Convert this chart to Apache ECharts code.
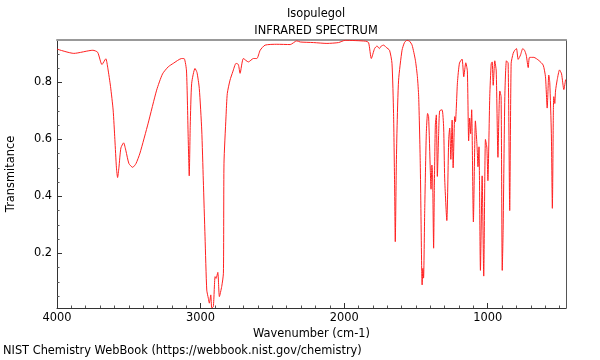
<!DOCTYPE html>
<html>
<head>
<meta charset="utf-8">
<script src="https://cdn.jsdelivr.net/npm/echarts@6/dist/echarts.min.js"></script>
<style>html,body{margin:0;padding:0;background:#fff}#c{width:600px;height:360px}</style>
</head>
<body>
<div id="c"></div>
<script>
const wavenumber = [4000,3883,3750,3717,3687,3660,3646,3627,3609,3597,3586,3578,3569,3555,3536,3520,3499,3473,3450,3422,3365,3306,3265,3225,3190,3132,3113,3098,3086,3079,3072,3062,3039,3025,3009,2992,2981,2969,2957,2946,2939,2929,2922,2911,2899,2892,2880,2869,2853,2841,2837,2823,2814,2795,2776,2753,2737,2725,2702,2667,2632,2608,2585,2551,2469,2376,2330,2306,2214,2120,2039,1993,1853,1830,1811,1788,1771,1755,1741,1725,1707,1684,1667,1656,1649,1644,1637,1632,1621,1597,1580,1562,1545,1527,1504,1490,1481,1470,1460,1457,1452,1447,1439,1428,1419,1412,1400,1395,1389,1384,1377,1372,1365,1358,1351,1342,1335,1318,1307,1300,1285,1272,1265,1257,1248,1241,1230,1225,1211,1197,1179,1167,1153,1142,1133,1126,1119,1112,1100,1086,1074,1068,1061,1051,1039,1028,1016,1006,999,986,976,969,962,951,941,929,922,916,907,899,893,881,870,858,847,837,823,812,800,788,772,756,744,732,718,709,679,644,614,598,586,575,568,557,550,543,540,533,528,516,500,486,470,458];
const transmittance = [0.917,0.902,0.913,0.906,0.863,0.883,0.85,0.785,0.703,0.60,0.50,0.466,0.50,0.57,0.588,0.56,0.515,0.502,0.515,0.552,0.657,0.773,0.830,0.855,0.867,0.884,0.883,0.84,0.60,0.472,0.65,0.797,0.849,0.835,0.779,0.633,0.457,0.258,0.071,0.042,0.025,0.054,0.008,0.013,0.118,0.112,0.133,0.048,0.083,0.130,0.516,0.679,0.761,0.808,0.837,0.867,0.863,0.832,0.884,0.872,0.884,0.884,0.913,0.931,0.934,0.933,0.946,0.942,0.940,0.937,0.940,0.948,0.945,0.940,0.884,0.919,0.928,0.919,0.928,0.931,0.923,0.913,0.867,0.691,0.45,0.241,0.50,0.633,0.808,0.913,0.94,0.948,0.945,0.931,0.878,0.82,0.750,0.516,0.141,0.089,0.147,0.113,0.35,0.62,0.691,0.681,0.49,0.425,0.51,0.476,0.218,0.43,0.65,0.686,0.47,0.62,0.70,0.704,0.64,0.464,0.315,0.60,0.64,0.53,0.668,0.50,0.68,0.662,0.80,0.868,0.882,0.82,0.869,0.84,0.595,0.675,0.62,0.704,0.31,0.665,0.57,0.504,0.574,0.14,0.472,0.12,0.60,0.57,0.455,0.75,0.865,0.872,0.79,0.876,0.84,0.537,0.69,0.77,0.75,0.14,0.28,0.75,0.876,0.868,0.35,0.867,0.902,0.913,0.919,0.881,0.896,0.919,0.913,0.896,0.852,0.888,0.888,0.877,0.861,0.82,0.71,0.826,0.80,0.62,0.358,0.70,0.75,0.726,0.77,0.81,0.844,0.83,0.775,0.81];

const xMajorTicks = [1000, 2000, 3000, 4000];
const xMinorTicks = [500,600,700,800,900,1100,1200,1300,1400,1500,1600,1700,1800,1900,2100,2200,2300,2400,2500,2600,2700,2800,2900,3100,3200,3300,3400,3500,3600,3700,3800,3900];
const yMajorTicks = [0.2, 0.4, 0.6, 0.8];
const yMinorTicks = [0.05,0.1,0.15,0.25,0.3,0.35,0.45,0.5,0.55,0.65,0.7,0.75,0.85,0.9];

const X_MIN = 455, X_MAX = 4000, Y_MIN = 0.008, Y_MAX = 0.949;
const FONT = 'DejaVu Sans';
const FS = 11.4;

const data = wavenumber.map((w, i) => [w, transmittance[i]]);

const chart = echarts.init(document.getElementById('c'), null, {renderer: 'canvas'});
const baseX = {type: 'value', min: X_MIN, max: X_MAX, inverse: true, splitLine: {show: false}, gridIndex: 0};
const baseY = {type: 'value', min: Y_MIN, max: Y_MAX, splitLine: {show: false}, gridIndex: 0};
chart.setOption({
  animation: false,
  backgroundColor: '#fff',
  title: [
    {text: 'Isopulegol', left: 311, top: 4, textAlign: 'center', textStyle: {fontFamily: FONT, fontSize: FS, fontWeight: 'normal', color: '#000'}},
    {text: 'INFRARED SPECTRUM', left: 311, top: 21, textAlign: 'center', textStyle: {fontFamily: FONT, fontSize: FS, fontWeight: 'normal', color: '#000'}}
  ],
  grid: {left: 57, right: 34, top: 40, bottom: 52, containLabel: false, outerBoundsMode: 'none'},
  xAxis: [
    Object.assign({}, baseX, {
      position: 'bottom',
      name: 'Wavenumber (cm-1)', nameLocation: 'middle', nameGap: 20,
      nameTextStyle: {fontFamily: FONT, fontSize: FS, color: '#000'},
      axisLine: {show: true, lineStyle: {color: '#333', width: 1}},
      axisTick: {show: true, inside: true, length: 5, customValues: xMajorTicks, lineStyle: {color: '#333'}},
      axisLabel: {show: true, customValues: xMajorTicks, margin: 5, fontFamily: FONT, fontSize: FS, color: '#000', formatter: v => String(Math.round(v))}
    }),
    Object.assign({}, baseX, {
      position: 'bottom',
      axisLine: {show: false},
      axisTick: {show: true, inside: true, length: 2.5, customValues: xMinorTicks, lineStyle: {color: '#555'}},
      axisLabel: {show: false}
    }),
    Object.assign({}, baseX, {
      position: 'top',
      axisLine: {show: true, lineStyle: {color: '#999', width: 2}},
      axisTick: {show: false}, axisLabel: {show: false}
    })
  ],
  yAxis: [
    Object.assign({}, baseY, {
      position: 'left',
      name: 'Transmitance', nameLocation: 'middle', nameGap: 40, nameRotate: 90,
      nameTextStyle: {fontFamily: FONT, fontSize: FS, color: '#000'},
      axisLine: {show: true, lineStyle: {color: '#333', width: 1}},
      axisTick: {show: true, inside: true, length: 5, customValues: yMajorTicks, lineStyle: {color: '#333'}},
      axisLabel: {show: true, customValues: yMajorTicks, margin: 5, fontFamily: FONT, fontSize: FS, color: '#000', formatter: v => v.toFixed(1)}
    }),
    Object.assign({}, baseY, {
      position: 'left',
      axisLine: {show: false},
      axisTick: {show: true, inside: true, length: 2.5, customValues: yMinorTicks, lineStyle: {color: '#555'}},
      axisLabel: {show: false}
    }),
    Object.assign({}, baseY, {
      position: 'right',
      axisLine: {show: true, lineStyle: {color: '#555', width: 1}},
      axisTick: {show: false}, axisLabel: {show: false}
    })
  ],
  series: [{
    type: 'line', xAxisIndex: 0, yAxisIndex: 0, data: data,
    showSymbol: false, smooth: 0.2, clip: true,
    lineStyle: {color: '#ff2020', width: 1}
  }],
  graphic: [{
    type: 'text', left: 3, top: 346,
    style: {text: 'NIST Chemistry WebBook (https://webbook.nist.gov/chemistry)', font: FS + 'px "DejaVu Sans"', fill: '#000'}
  }]
});
</script>
</body>
</html>
